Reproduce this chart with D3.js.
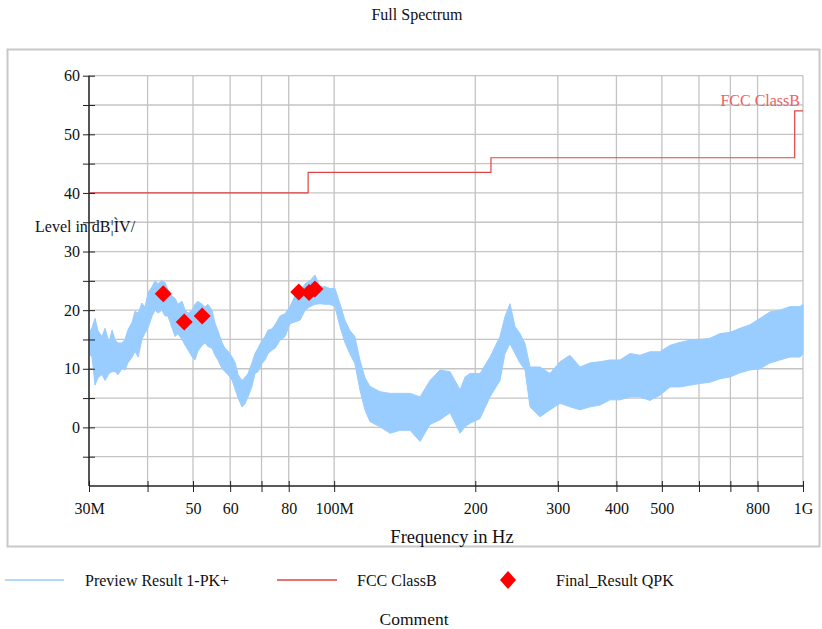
<!DOCTYPE html>
<html>
<head>
<meta charset="utf-8">
<script src="https://cdn.jsdelivr.net/npm/d3@7/dist/d3.min.js"></script>
<style>
  html, body { margin: 0; padding: 0; background: #fff; }
  text { font-family: "Liberation Serif", "Times New Roman", serif; fill: #111; }
</style>
</head>
<body>
<svg id="chart" width="822" height="629"></svg>
<script>
// ---------------- data ----------------
const specFreq = [30.0, 30.44, 30.9, 31.36, 31.98, 32.45, 33.1, 33.6, 34.1, 34.6, 35.3, 35.8, 36.3, 37.1, 37.6, 38.2, 38.9, 39.5, 40.1, 40.9, 41.5, 42.1, 42.9, 43.6, 44.2, 45.1, 45.8, 46.4, 47.4, 48.1, 48.8, 49.8, 50.5, 51.2, 52.3, 53.0, 53.8, 54.9, 55.7, 56.5, 57.7, 58.5, 59.4, 60.6, 61.5, 62.4, 63.6, 64.5, 65.5, 66.8, 67.8, 68.8, 70.2, 71.2, 72.3, 73.7, 74.8, 76.7, 78.6, 80.5, 82.5, 84.6, 86.7, 88.8, 91.0, 93.3, 95.6, 98.0, 100.4, 102.9, 105.4, 108.1, 110.7, 113.5, 116.3, 119.2, 125.2, 131.6, 138.2, 145.2, 152.5, 160.1, 168.2, 176.7, 185.6, 190.2, 194.9, 204.7, 215.0, 225.8, 231.4, 237.2, 243.1, 249.1, 255.3, 261.7, 274.8, 288.7, 303.2, 318.5, 334.5, 351.3, 369.0, 387.6, 407.1, 427.6, 449.1, 471.7, 495.4, 520.4, 546.6, 574.1, 602.9, 633.3, 665.2, 698.6, 733.8, 770.7, 809.5, 850.3, 893.0, 938.0, 985.2, 1000];
const specHi = [16.1, 17.0, 18.6, 16.5, 15.5, 16.9, 14.5, 16.6, 14.9, 14.4, 14.4, 15.0, 16.6, 18.0, 19.8, 19.5, 21.2, 20.5, 23.0, 24.0, 25.0, 24.5, 25.0, 24.7, 23.5, 22.4, 22.0, 21.0, 21.5, 20.0, 19.5, 20.0, 21.0, 21.5, 21.0, 20.5, 21.0, 20.0, 17.8, 16.5, 14.4, 13.5, 13.0, 12.0, 11.0, 9.0, 8.0, 8.5, 9.2, 11.0, 12.6, 13.5, 14.9, 15.5, 16.6, 16.8, 17.5, 19.0, 19.4, 20.6, 22.5, 23.1, 24.5, 25.0, 26.0, 24.0, 24.0, 23.7, 23.7, 21.1, 18.3, 16.5, 15.5, 11.5, 8.5, 7.0, 6.1, 5.8, 5.8, 5.8, 5.2, 8.0, 9.8, 9.5, 6.4, 8.6, 9.2, 9.2, 12.0, 15.5, 18.9, 21.1, 17.2, 16.0, 14.3, 10.3, 10.3, 9.2, 11.2, 12.3, 10.3, 11.0, 11.2, 11.5, 11.5, 12.6, 12.3, 12.9, 12.9, 14.0, 14.5, 14.9, 15.0, 15.2, 16.0, 16.2, 16.9, 17.5, 18.6, 19.7, 20.0, 20.6, 20.6, 21.0];
const specLo = [12.6, 12.0, 7.2, 8.5, 9.0, 8.0, 9.2, 9.5, 9.5, 9.0, 10.1, 9.8, 11.0, 12.0, 13.0, 12.0, 15.0, 16.1, 17.0, 19.0, 20.0, 19.5, 20.0, 19.0, 19.0, 17.0, 15.5, 16.0, 15.0, 14.0, 13.2, 12.0, 11.5, 13.0, 14.0, 14.4, 13.8, 13.5, 12.3, 11.5, 10.0, 9.5, 9.0, 8.0, 6.5, 5.0, 3.5, 4.0, 5.2, 7.0, 9.2, 9.5, 10.9, 11.5, 12.6, 13.2, 13.5, 14.9, 15.5, 17.7, 18.0, 18.3, 20.0, 20.6, 21.0, 21.1, 21.0, 21.0, 20.6, 17.2, 14.5, 12.5, 10.9, 6.4, 3.0, 1.0, 0.1, -1.0, -0.5, -0.5, -2.4, 0.5, 1.3, 2.5, -1.0, 0.1, 0.7, 1.5, 5.2, 8.0, 12.6, 14.3, 12.6, 11.0, 9.8, 3.5, 1.8, 3.0, 4.1, 3.5, 3.0, 3.5, 3.8, 4.7, 4.7, 5.2, 5.2, 4.6, 5.5, 6.9, 6.9, 7.2, 7.5, 7.7, 8.3, 8.6, 9.3, 9.8, 10.0, 11.0, 11.5, 12.0, 12.0, 12.5];

const limitFreq  = [30, 88, 216, 960, 1000];
const limitLevel = [40, 43.5, 46, 54, 54];

const qpkFreq  = [43.2, 47.9, 52.3, 84.05, 88.4, 91.0];
const qpkLevel = [22.8, 18.0, 19.0, 23.1, 23.0, 23.6];

const xTickValues = [30, 40, 50, 60, 70, 80, 100, 200, 300, 400, 500, 600, 700, 800, 1000];
const xTickLabels = ["30M", "", "50", "60", "", "80", "100M", "200", "300", "400", "500", "", "", "800", "1G"];
const yTickValues = [-5, 0, 5, 10, 15, 20, 25, 30, 35, 40, 45, 50, 55, 60];
const yLabelValues = [0, 10, 20, 30, 40, 50, 60];

const legendLabels = ["Preview Result 1-PK+", "FCC ClassB", "Final_Result QPK"];

// ---------------- drawing ----------------
const svg = d3.select("#chart");
const x = d3.scaleLog().domain([30, 1000]).range([89, 803]);
const y = d3.scaleLinear().domain([-10, 60]).range([486, 75.7]);

const BLUE = "#99ccff", RED = "#e04444", GRID = "#c4c4c4";

svg.append("rect").attr("width", 822).attr("height", 629).attr("fill", "#fff");

// outer frame
svg.append("rect").attr("x", 7.5).attr("y", 49.5).attr("width", 812).attr("height", 497)
  .attr("fill", "none").attr("stroke", "#c8c8c8").attr("stroke-width", 2);

// title
svg.append("text").attr("x", 417).attr("y", 20).attr("text-anchor", "middle")
  .style("font-size", "16px").text("Full Spectrum");

// grid
const grid = svg.append("g");
grid.selectAll(".hg").data(yTickValues).enter().append("line")
  .attr("x1", x(30)).attr("x2", x(1000))
  .attr("y1", d => y(d)).attr("y2", d => y(d))
  .attr("stroke", GRID).attr("stroke-width", 1.3);
grid.selectAll(".vg").data(xTickValues.slice(1)).enter().append("line")
  .attr("x1", d => x(d)).attr("x2", d => x(d))
  .attr("y1", y(60)).attr("y2", y(-10))
  .attr("stroke", GRID).attr("stroke-width", 1.3);

// spectrum band
const area = d3.area()
  .x((d, i) => x(specFreq[i]))
  .y0((d, i) => y(specLo[i]))
  .y1((d, i) => y(specHi[i]));
svg.append("path").datum(specFreq).attr("d", area)
  .attr("fill", BLUE).attr("stroke", BLUE).attr("stroke-width", 1);

// limit line
const limLine = d3.line().x((d, i) => x(limitFreq[i])).y((d, i) => y(limitLevel[i])).curve(d3.curveStepAfter);
svg.append("path").datum(limitFreq).attr("d", limLine)
  .attr("fill", "none").attr("stroke", RED).attr("stroke-width", 1.2);
svg.append("text").attr("x", 800).attr("y", 106).attr("text-anchor", "end")
  .style("font-size", "16px").style("fill", "#f06060").text("FCC ClassB");

// axes
const yAxis = d3.axisLeft(y).tickValues(yTickValues)
  .tickFormat(d => yLabelValues.includes(d) ? d : "").tickSize(6).tickPadding(3);
const gy = svg.append("g").attr("transform", "translate(89,0)").call(yAxis);
gy.select(".domain").attr("stroke", "#555").attr("stroke-width", 2).attr("d", `M0,${y(60)}V${y(-10)}`);
gy.selectAll(".tick line").attr("x1", -6).attr("x2", 6).attr("stroke", "#222");
gy.selectAll(".tick text").style("font-size", "16px").attr("font-family", null).attr("fill", "#111");

const xAxis = d3.axisBottom(x).tickValues(xTickValues)
  .tickFormat((d, i) => xTickLabels[i]).tickSize(6).tickPadding(11);
const gx = svg.append("g").attr("transform", "translate(0,486)").call(xAxis);
gx.select(".domain").attr("stroke", "#222").attr("stroke-width", 1.5).attr("d", `M${x(30)},0H${x(1000)}`);
gx.selectAll(".tick line").attr("y1", -5).attr("y2", 6).attr("stroke", "#222");
gx.selectAll(".tick text").style("font-size", "16px").attr("font-family", null).attr("fill", "#111");

// axis titles
svg.append("text").attr("x", 35).attr("y", 232).style("font-size", "16px").text("Level in dB¦ÌV/");
svg.append("text").attr("x", 452).attr("y", 543).attr("text-anchor", "middle")
  .style("font-size", "18.5px").text("Frequency in Hz");

// markers
const diamond = (cx, cy, r) => `M${cx},${cy - r}L${cx + r},${cy}L${cx},${cy + r}L${cx - r},${cy}Z`;
svg.selectAll(".qpk").data(qpkFreq).enter().append("path")
  .attr("d", (d, i) => diamond(x(d), y(qpkLevel[i]), 8.5))
  .attr("fill", "#ff0000");

// legend
const lg = svg.append("g");
lg.append("line").attr("x1", 5).attr("x2", 64).attr("y1", 580).attr("y2", 580).attr("stroke", BLUE).attr("stroke-width", 1.5);
lg.append("text").attr("x", 85).attr("y", 586).style("font-size", "16px").text(legendLabels[0]);
lg.append("line").attr("x1", 277).attr("x2", 337).attr("y1", 580).attr("y2", 580).attr("stroke", RED).attr("stroke-width", 1.5);
lg.append("text").attr("x", 357).attr("y", 586).style("font-size", "16px").text(legendLabels[1]);
lg.append("path").attr("d", "M508,571L516,580L508,589L500,580Z").attr("fill", "#ff0000");
lg.append("text").attr("x", 556).attr("y", 586).style("font-size", "16px").text(legendLabels[2]);

svg.append("text").attr("x", 414).attr("y", 625).attr("text-anchor", "middle")
  .style("font-size", "17.5px").text("Comment");
</script>
</body>
</html>
